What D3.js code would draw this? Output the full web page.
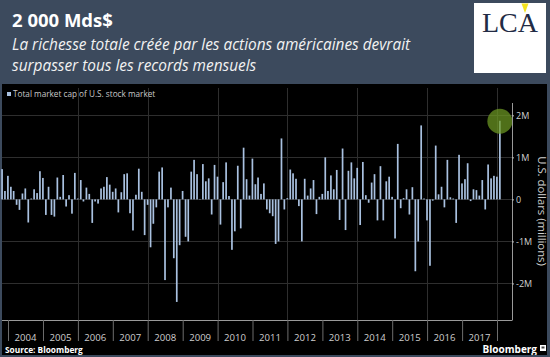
<!DOCTYPE html>
<html><head><meta charset="utf-8">
<script src="https://cdn.jsdelivr.net/npm/d3@7"></script>
<style>html,body{margin:0;padding:0;background:#3c4a5d;} svg{display:block}</style>
</head><body><svg id="c" width="550" height="357"></svg>
<script>
// ---------- data ----------
const title = "2 000 Mds$";
const subtitleLines = ["La richesse totale créée par les actions américaines devrait",
                       "surpasser tous les records mensuels"];
const seriesName = "Total market cap of U.S. stock market";
const yAxisTitle = "U.S. dollars (millions)";
const sourceText = "Source: Bloomberg";
// first month of the series (month-end values): October 2003
const firstYear = 2003, firstMonthIndex = 9;
// monthly change of total U.S. market cap, in millions of millions (M)
const capChange = [
  0.72, 0.20, 0.56,                                                     // 2003 Oct-Dec
  0.30, 0.20,-0.13,-0.25, 0.14, 0.26,-0.55, 0.02, 0.24, 0.15, 0.67, 0.51, // 2004
 -0.37, 0.30,-0.37,-0.41, 0.52, 0.06, 0.58,-0.17, 0.10,-0.34, 0.63, 0.02, // 2005
  0.46,-0.05, 0.28, 0.13,-0.56,-0.05,-0.10, 0.26, 0.30, 0.53, 0.35, 0.18, // 2006
  0.26,-0.31, 0.17, 0.60, 0.62,-0.33,-0.74, 0.11, 0.73, 0.18,-0.85,-0.13, // 2007
 -1.14,-0.58,-0.19, 0.66, 0.76,-1.92,-0.19, 0.28,-1.40,-2.44,-1.09, 0.20, // 2008
 -0.89,-1.00, 0.66, 0.94, 0.60, 0.01, 0.84, 0.43, 0.50,-0.36, 0.82, 0.54, // 2009
 -0.60, 0.41, 0.88, 0.08,-1.20,-0.76, 0.80,-0.69, 1.23, 0.48, 0.09, 0.97, // 2010
  0.36, 0.52, 0.13, 0.38,-0.24,-0.33,-0.40,-1.06,-1.00, 1.45,-0.24, 0.03, // 2011
  0.71, 0.62, 0.49,-0.16,-1.00, 0.49, 0.09, 0.26, 0.46,-0.35, 0.06, 0.13, // 2012
  1.00, 0.20, 0.57, 0.24, 0.70,-0.49, 1.21,-0.73, 0.68, 0.88, 0.50, 0.75, // 2013
 -0.61, 0.89, 0.10,-0.08, 0.40, 0.60,-0.50, 0.79,-0.50, 0.43, 0.54, 0.06, // 2014
 -0.93, 1.32,-0.21, 0.03, 0.24,-0.36, 0.29,-1.71,-1.00, 1.76, 0.02,-0.50, // 2015
 -1.58,-0.03, 1.28, 0.12, 0.30,-0.19, 0.94, 0.05, 0.02,-0.56, 1.06, 0.38, // 2016
  0.48, 0.86,-0.04, 0.24, 0.22, 0.09, 0.46,-0.24, 0.83, 0.50, 0.56, 0.54, // 2017
  1.87                                                                  // 2018 Jan
];
const yTickValues = [-2, -1, 0, 1, 2];
const yTickLabels = ["-2M", "-1M", "0", "1M", "2M"];
const yearLabels = ["2004","2005","2006","2007","2008","2009","2010","2011",
                    "2012","2013","2014","2015","2016","2017"];

// ---------- drawing ----------
const svg = d3.select("#c");
const W = 550, H = 357;
const font = "'Open Sans', 'Noto Sans', sans-serif";

svg.append("rect").attr("width", W).attr("height", H).attr("fill", "#3c4a5d");

// titles
svg.append("text").attr("x", 12).attr("y", 27).text(title)
  .attr("font-family", font).attr("font-weight", 700).attr("font-size", 18.5).attr("fill", "#fff");
svg.selectAll("text.sub").data(subtitleLines).join("text").attr("class", "sub")
  .attr("x", 12).attr("y", (d, i) => 50 + i * 21).text(d => d)
  .attr("font-family", font).attr("font-style", "italic").attr("font-size", 15.4).attr("fill", "#f2f2f2");

// LCA logo
svg.append("rect").attr("x", 474).attr("y", 3).attr("width", 72).attr("height", 70).attr("fill", "#fff");
svg.append("text").attr("x", 510).attr("y", 32).attr("text-anchor", "middle").text("LCA")
  .attr("font-family", "'Liberation Serif', serif").attr("font-size", 28).attr("fill", "#222b45");
svg.append("path").attr("d", "M521.5,3.5 L528.5,3.5 L525,13 Z").attr("fill", "#f3e21c");

// chart panel
svg.append("rect").attr("x", 2).attr("y", 84).attr("width", 545).attr("height", 271).attr("fill", "#000");

const x = d3.scaleTime().domain([new Date(2004, 0, 1), new Date(2018, 0, 1)]).range([8, 497]);
const y = d3.scaleLinear().domain([-2.87, 2.65]).range([320, 88]);
const axisX = 512;

const data = capChange.map((v, i) => ({ date: new Date(firstYear, firstMonthIndex + i + 1, 0), value: v }));

// gridlines
svg.append("g").selectAll("line").data(yTickValues).join("line")
  .attr("x1", 2).attr("x2", axisX).attr("y1", d => Math.round(y(d)) + 0.5).attr("y2", d => Math.round(y(d)) + 0.5)
  .attr("stroke", "#2e2e2e").attr("stroke-width", 1);
const gridYears = d3.range(2006, 2019, 2);
svg.append("g").selectAll("line").data(gridYears).join("line")
  .attr("x1", d => Math.round(x(new Date(d, 0, 1))) + 0.5).attr("x2", d => Math.round(x(new Date(d, 0, 1))) + 0.5)
  .attr("y1", 88).attr("y2", 320).attr("stroke", "#2e2e2e").attr("stroke-width", 1);

// legend
svg.append("rect").attr("x", 7).attr("y", 92).attr("width", 4).attr("height", 4).attr("fill", "#a9c1e0");
svg.append("text").attr("x", 13).attr("y", 97).text(seriesName)
  .attr("font-family", font).attr("font-size", 8.2).attr("fill", "#c8c8c8");

// bars
svg.append("g").selectAll("rect").data(data).join("rect")
  .attr("x", d => x(d.date) - 0.85).attr("width", 1.7)
  .attr("y", d => Math.min(y(d.value), y(0)))
  .attr("height", d => Math.abs(y(d.value) - y(0)))
  .attr("fill", "#a9c1e0");

// highlight circle on the last bar
const last = data[data.length - 1];
svg.append("circle").attr("cx", x(last.date)).attr("cy", y(last.value) + 0.5).attr("r", 12.5)
  .attr("fill", "#6e9a22").attr("fill-opacity", 0.72);

// bottom axis
svg.append("line").attr("x1", 2).attr("x2", axisX).attr("y1", 320.5).attr("y2", 320.5)
  .attr("stroke", "#9a9a9a").attr("stroke-width", 1);
const xAxis = d3.axisBottom(x)
  .tickValues(d3.range(2004, 2019).map(yr => new Date(yr, 0, 1)))
  .tickSize(21).tickFormat("");
const gx = svg.append("g").attr("transform", "translate(0,320)").call(xAxis);
gx.select(".domain").remove();
gx.selectAll(".tick line").attr("stroke", "#6d6d6d");
svg.append("g").selectAll("text").data(yearLabels).join("text")
  .attr("x", d => (x(new Date(+d, 0, 1)) + x(new Date(+d + 1, 0, 1))) / 2)
  .attr("y", 341).attr("text-anchor", "middle").text(d => d)
  .attr("font-family", font).attr("font-size", 9.6).attr("fill", "#cfcfcf");

// right axis
const yAxis = d3.axisRight(y).tickValues(yTickValues).tickFormat((d, i) => yTickLabels[i])
  .tickSize(2).tickPadding(2);
const gy = svg.append("g").attr("transform", `translate(${axisX},0)`).call(yAxis);
gy.select(".domain").attr("d", `M0.5,103V320.5`).attr("stroke", "#9a9a9a");
gy.selectAll(".tick line").attr("stroke", "#bbb");
gy.selectAll(".tick text").attr("font-family", font).attr("font-size", 9).attr("fill", "#cfcfcf");
svg.append("text").attr("transform", `translate(538,211) rotate(90)`)
  .attr("text-anchor", "middle").text(yAxisTitle)
  .attr("font-family", font).attr("font-size", 11.3).attr("fill", "#d0d0d0");

// footer
svg.append("text").attr("x", 5).attr("y", 353).text(sourceText)
  .attr("font-family", font).attr("font-weight", 700).attr("font-size", 8.3).attr("fill", "#fff");
svg.append("text").attr("x", 537).attr("y", 353).attr("text-anchor", "end").text("Bloomberg")
  .attr("font-family", font).attr("font-weight", 700).attr("font-size", 10).attr("fill", "#fff");
svg.append("rect").attr("x", 540).attr("y", 345).attr("width", 6).attr("height", 6).attr("fill", "#fff");
svg.append("rect").attr("x", 541.5).attr("y", 346.5).attr("width", 3).attr("height", 2).attr("fill", "#444");
svg.append("rect").attr("x", 0).attr("y", 355).attr("width", W).attr("height", 2).attr("fill", "#3c4a5d");
</script></body></html>
